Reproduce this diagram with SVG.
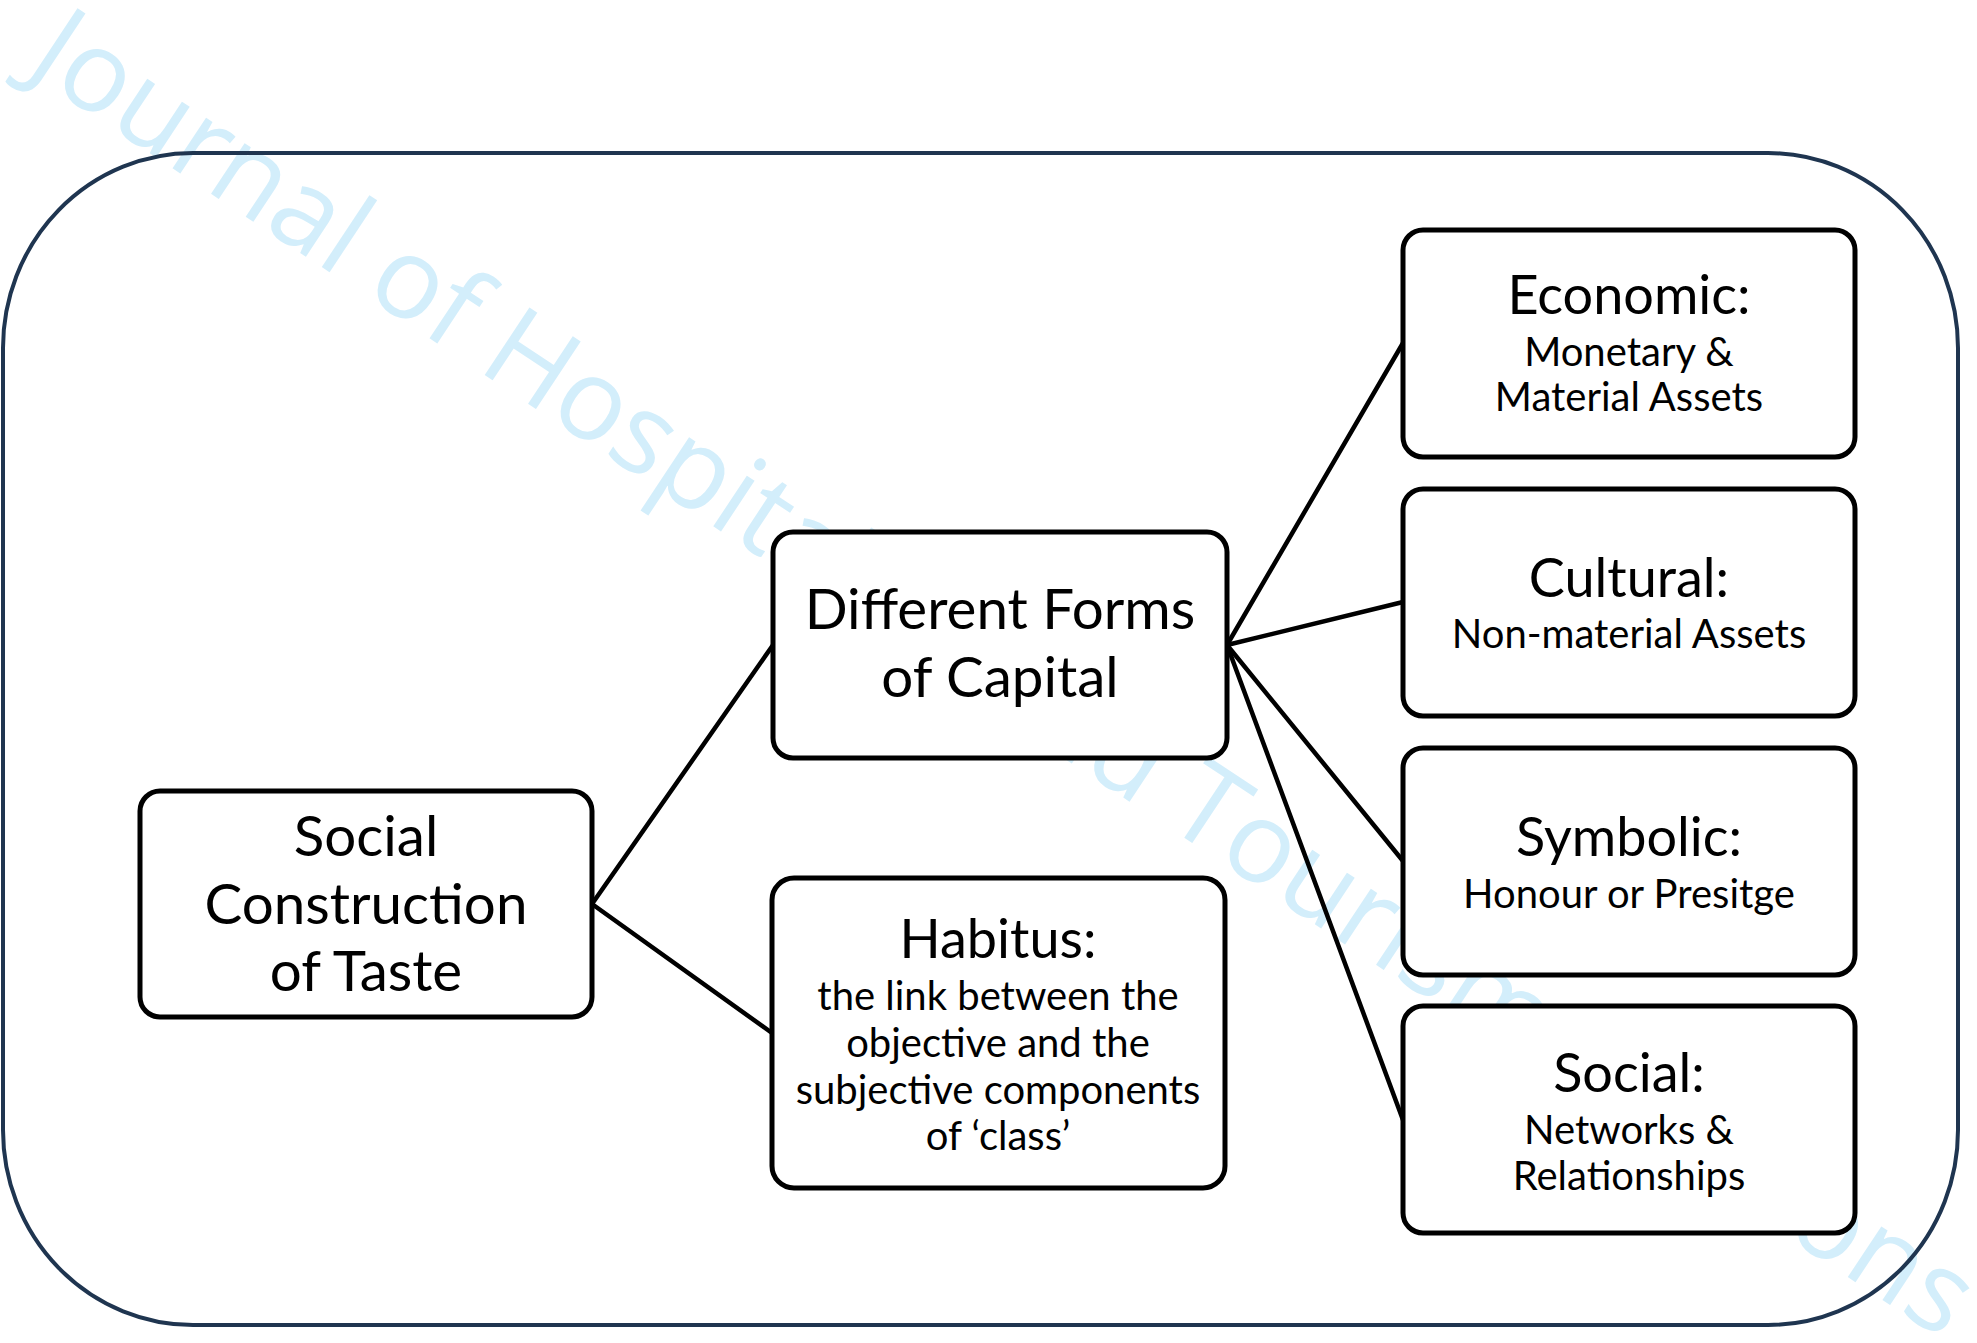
<svg xmlns="http://www.w3.org/2000/svg" width="1977" height="1343" viewBox="0 0 1977 1343">
  <style>
    .bg { fill: #ffffff; }
    .frame { fill: none; stroke: #1f3550; stroke-width: 4; }
    .box { fill: #ffffff; stroke: #000000; stroke-width: 5; }
    .conn { stroke: #000000; stroke-width: 4.5; fill: none; stroke-linecap: round; }
    .wm { font-family: "Open Sans", "Noto Sans", sans-serif; font-size: 113.5px; fill: #d3eefb; }
    .t { font-family: Lato, "Liberation Sans", sans-serif; fill: #000000; text-anchor: middle; }
    .big { font-size: 56.5px; }
    .head { font-size: 54px; }
    .sub { font-size: 40px; }
  </style>
  <rect class="bg" x="0" y="0" width="1977" height="1343"/>

  <g id="watermark">
    <text class="wm" transform="translate(24,70) rotate(33.5)">Journal of Hospitality and Tourism Horizons</text>
  </g>

  <g id="frame">
    <rect class="frame" x="3" y="153" width="1955" height="1172" rx="190" ry="195"/>
  </g>

  <g id="connectors">
    <line class="conn" x1="592" y1="904" x2="773" y2="645"/>
    <line class="conn" x1="592" y1="904" x2="772" y2="1033"/>
    <line class="conn" x1="1227" y1="645" x2="1403" y2="343"/>
    <line class="conn" x1="1227" y1="645" x2="1403" y2="602"/>
    <line class="conn" x1="1227" y1="645" x2="1403" y2="861"/>
    <line class="conn" x1="1227" y1="645" x2="1403" y2="1120"/>
  </g>

  <g id="node-social-construction">
    <rect class="box" x="140" y="791" width="452" height="226" rx="20"/>
    <text class="t big" x="366" y="856">Social</text>
    <text class="t big" x="366" y="924">Construction</text>
    <text class="t big" x="366" y="991">of Taste</text>
  </g>

  <g id="node-forms-of-capital">
    <rect class="box" x="773" y="532" width="454" height="226" rx="20"/>
    <text class="t big" x="1000" y="629">Different Forms</text>
    <text class="t big" x="1000" y="697">of Capital</text>
  </g>

  <g id="node-habitus">
    <rect class="box" x="772" y="878" width="453" height="310" rx="22"/>
    <text class="t head" x="998" y="958">Habitus:</text>
    <text class="t sub" x="998" y="1010">the link between the</text>
    <text class="t sub" x="998" y="1057">objective and the</text>
    <text class="t sub" x="998" y="1104">subjective components</text>
    <text class="t sub" x="998" y="1150">of ‘class’</text>
  </g>

  <g id="node-economic">
    <rect class="box" x="1403" y="230" width="452" height="227" rx="20"/>
    <text class="t head" x="1629" y="314">Economic:</text>
    <text class="t sub" x="1629" y="366">Monetary &amp;</text>
    <text class="t sub" x="1629" y="411">Material Assets</text>
  </g>

  <g id="node-cultural">
    <rect class="box" x="1403" y="489" width="452" height="227" rx="20"/>
    <text class="t head" x="1629" y="597">Cultural:</text>
    <text class="t sub" x="1629" y="648">Non-material Assets</text>
  </g>

  <g id="node-symbolic">
    <rect class="box" x="1403" y="748" width="452" height="227" rx="20"/>
    <text class="t head" x="1629" y="856">Symbolic:</text>
    <text class="t sub" x="1629" y="908">Honour or Presitge</text>
  </g>

  <g id="node-social">
    <rect class="box" x="1403" y="1006" width="452" height="227" rx="20"/>
    <text class="t head" x="1629" y="1092">Social:</text>
    <text class="t sub" x="1629" y="1144">Networks &amp;</text>
    <text class="t sub" x="1629" y="1190">Relationships</text>
  </g>
</svg>
